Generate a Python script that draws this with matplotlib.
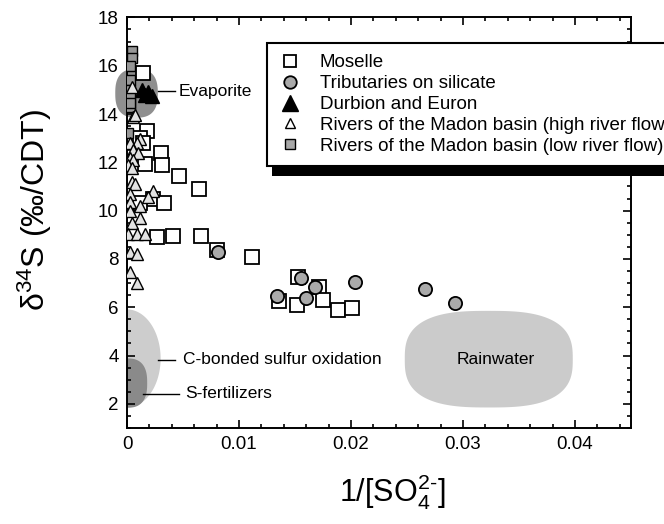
import numpy as np
import matplotlib
matplotlib.use("Agg")
import matplotlib.pyplot as plt
from matplotlib.lines import Line2D
from matplotlib.patches import Polygon, Rectangle

plt.rcParams['font.family'] = ['Liberation Sans', 'DejaVu Sans']
plt.rcParams['mathtext.fontset'] = 'custom'
plt.rcParams['mathtext.rm'] = 'Liberation Sans'
plt.rcParams['mathtext.it'] = 'Liberation Sans:italic'

# Moselle (open squares)
moselle_x = [0.0014, 0.0018, 0.0012, 0.0014, 0.0030, 0.0031, 0.0016, 0.0046, 0.0064,
             0.0023, 0.0033, 0.0012, 0.0027, 0.0041, 0.0066, 0.0080, 0.0112, 0.0153,
             0.0136, 0.0152, 0.0171, 0.0175, 0.0188, 0.0201]
moselle_y = [15.7, 13.3, 13.0, 12.8, 12.4, 11.9, 11.95, 11.45, 10.9,
             10.5, 10.3, 10.3, 8.9, 8.95, 8.95, 8.35, 8.1, 7.27,
             6.27, 6.11, 6.85, 6.32, 5.9, 5.98]

# Tributaries on silicate (grey circles)
trib_x = [0.0081, 0.0134, 0.0155, 0.0168, 0.0160, 0.0204, 0.0266, 0.0293]
trib_y = [8.27, 6.48, 7.19, 6.85, 6.40, 7.06, 6.77, 6.19]

# Durbion and Euron (black triangles)
durb_x = [0.0013, 0.0019, 0.0022, 0.0016]
durb_y = [15.0, 14.9, 14.75, 14.8]

# Madon basin, high river flow (open triangles)
madon_hi_x = [0.0004, 0.0005, 0.0012, 0.0007, 0.0009, 0.0003, 0.0005, 0.0010, 0.0003,
              0.0005, 0.0001, 0.0004, 0.0004, 0.0007, 0.0003, 0.0023, 0.0019, 0.0003,
              0.0012, 0.0003, 0.0012, 0.0004, 0.0001, 0.0009, 0.0016, 0.0003, 0.0009,
              0.0003, 0.0009]
madon_hi_y = [15.1, 13.87, 12.95, 13.95, 12.8, 12.8, 12.5, 12.37, 12.17,
              12.08, 11.87, 11.75, 11.2, 11.1, 10.7, 10.8, 10.55, 10.34,
              10.2, 10.0, 9.68, 9.47, 9.05, 9.05, 9.05, 8.27, 8.22,
              7.44, 7.0]

# Madon basin, low river flow (grey squares)
madon_lo_x = [0.0004, 0.0004, 0.0003, 0.0003, 0.0003, 0.0003, 0.0003, 0.0001, 0.0003]
madon_lo_y = [16.6, 16.3, 16.0, 15.4, 15.0, 14.7, 14.3, 13.2, 14.45]

legend_labels = ["Moselle", "Tributaries on silicate", "Durbion and Euron",
                 "Rivers of the Madon basin (high river flow)",
                 "Rivers of the Madon basin (low river flow)"]


def rounded_shape(cx, cy, a, b, n=2.0, npts=200):
    t = np.linspace(0, 2 * np.pi, npts)
    c, s = np.cos(t), np.sin(t)
    x = cx + a * np.sign(c) * np.abs(c) ** (2.0 / n)
    y = cy + b * np.sign(s) * np.abs(s) ** (2.0 / n)
    return np.column_stack([x, y])


fig = plt.figure(figsize=(6.64, 5.24), dpi=100)
ax = fig.add_axes([0.1913, 0.1832, 0.759, 0.7836])

# source domains
ax.add_patch(Polygon(rounded_shape(0.0, 3.88, 0.0030, 2.03, 2.0), closed=True,
                     facecolor='#cdcdcd', edgecolor='none', zorder=1))
ax.add_patch(Polygon(rounded_shape(0.0, 2.86, 0.0018, 1.02, 2.6), closed=True,
                     facecolor='#8a8a8a', edgecolor='none', zorder=1.1))
ax.add_patch(Polygon(rounded_shape(0.0323, 3.85, 0.0075, 2.0, 2.8), closed=True,
                     facecolor='#cbcbcb', edgecolor='none', zorder=1))
ax.add_patch(Polygon(rounded_shape(0.00085, 14.86, 0.0019, 1.01, 2.6), closed=True,
                     facecolor='#8f8f8f', edgecolor='none', zorder=1, clip_on=False))

ax.plot(moselle_x, moselle_y, 's', ms=9.5, mfc='white', mec='black', mew=1.3, zorder=3)
ax.plot(trib_x, trib_y, 'o', ms=9.5, mfc='#aaaaaa', mec='black', mew=1.3, zorder=4)
ax.plot(madon_lo_x, madon_lo_y, 's', ms=7.5, mfc='#979797', mec='black', mew=1.0, zorder=4)
ax.plot(madon_hi_x, madon_hi_y, '^', ms=8, mfc='#e2e2e2', mec='black', mew=1.0, zorder=5)
ax.plot(durb_x, durb_y, '^', ms=10, mfc='black', mec='black', zorder=6)

# labels of the domains
ax.plot([0.0028, 0.0043], [14.95, 14.95], color='black', lw=1)
ax.text(0.0046, 14.95, "Evaporite", fontsize=12.5, va='center')
ax.plot([0.0028, 0.0043], [3.83, 3.83], color='black', lw=1)
ax.text(0.005, 3.83, "C-bonded sulfur oxidation", fontsize=12.5, va='center')
ax.plot([0.0014, 0.0046], [2.41, 2.41], color='black', lw=1)
ax.text(0.0052, 2.41, "S-fertilizers", fontsize=12.5, va='center')
ax.text(0.0329, 3.83, "Rainwater", fontsize=12.5, va='center', ha='center')

ax.set_xlim(0, 0.045)
ax.set_ylim(1, 18)
ax.set_xticks([0, 0.01, 0.02, 0.03, 0.04])
ax.set_xticklabels(["0", "0.01", "0.02", "0.03", "0.04"])
ax.set_xticks(np.arange(0, 0.0451, 0.002), minor=True)
ax.set_yticks(np.arange(2, 18.1, 2))
ax.set_yticks(np.arange(1, 18.01, 0.5), minor=True)
ax.tick_params(which='both', direction='in', top=True, right=True, width=1.2, labelsize=13.5)
ax.tick_params(which='major', length=6, pad=6)
ax.tick_params(which='minor', length=3)
for sp in ax.spines.values():
    sp.set_linewidth(1.4)

ax.set_xlabel(r"$\mathregular{1/[SO_4^{2\text{-}}]}$", fontsize=22)
ax.xaxis.set_label_coords(0.526, -0.108)
ax.set_ylabel(r"$\mathregular{\delta^{34}}$S (‰/CDT)", fontsize=23)
ax.yaxis.set_label_coords(-0.145, 0.53)

handles = [
    Line2D([], [], ls='none', marker='s', ms=9, mfc='white', mec='black', mew=1.3),
    Line2D([], [], ls='none', marker='o', ms=9, mfc='#aaaaaa', mec='black', mew=1.3),
    Line2D([], [], ls='none', marker='^', ms=11, mfc='black', mec='black'),
    Line2D([], [], ls='none', marker='^', ms=7, mfc='white', mec='black', mew=1.0),
    Line2D([], [], ls='none', marker='s', ms=7, mfc='#a8a8a8', mec='black', mew=1.0),
]
leg = fig.legend(handles, legend_labels, loc='upper left',
                 bbox_to_anchor=(267 / 664, 1 - 43 / 524), fontsize=13.5,
                 frameon=True, fancybox=False, edgecolor='black', framealpha=1,
                 borderpad=0.6, labelspacing=0.2, handlelength=1.2,
                 handletextpad=1.0, borderaxespad=0)
leg.get_frame().set_linewidth(1.5)
leg.set_zorder(10)

fig.canvas.draw()
bb = leg.get_window_extent()
W, H = fig.bbox.width, fig.bbox.height
fig.patches.append(Rectangle(((bb.x0 + 5) / W, (bb.y0 - 10) / H), bb.width / W, bb.height / H,
                             transform=fig.transFigure, facecolor='black',
                             edgecolor='none', zorder=9))

fig.savefig("out.png", dpi=100)
